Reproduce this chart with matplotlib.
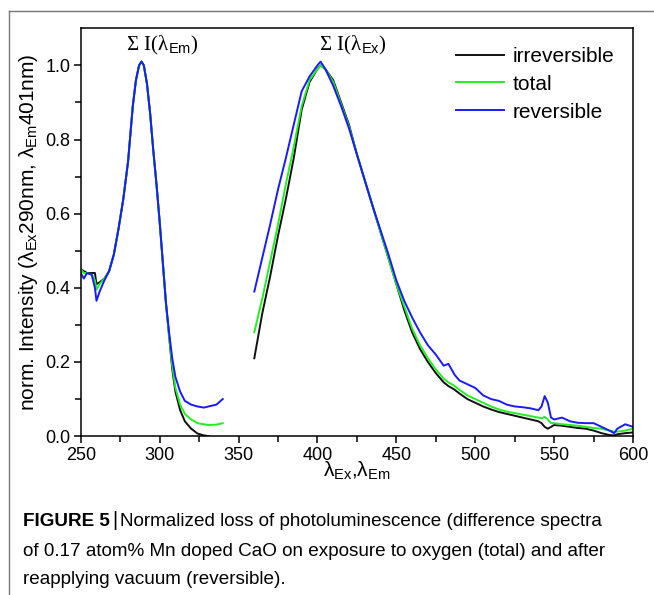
import numpy as np
import matplotlib
matplotlib.use("Agg")
import matplotlib.pyplot as plt
from matplotlib.lines import Line2D

plt.rcParams['font.family'] = ['Liberation Sans', 'DejaVu Sans']
plt.rcParams['mathtext.fontset'] = 'custom'
plt.rcParams['mathtext.rm'] = 'Liberation Serif'
plt.rcParams['mathtext.it'] = 'Liberation Sans'
plt.rcParams['mathtext.sf'] = 'Liberation Sans'

# excitation spectrum (em. 401 nm)
ex_wl = [250, 252, 254, 257, 259, 260, 262, 265, 268, 271, 274, 277, 280, 283, 285, 287,
         288.5, 290, 292, 294, 296, 298, 300, 302, 304, 306, 308, 310, 313, 316, 320, 324,
         328, 331, 336, 340]
ex_irr = [0.45, 0.445, 0.44, 0.44, 0.44, 0.41, 0.415, 0.425, 0.445, 0.49, 0.56, 0.64, 0.74,
          0.89, 0.96, 1.0, 1.01, 1.0, 0.95, 0.87, 0.77, 0.68, 0.58, 0.47, 0.36, 0.27, 0.18,
          0.12, 0.07, 0.04, 0.02, 0.007, 0.002, 0.0, np.nan, np.nan]
ex_tot = [0.45, 0.44, 0.44, 0.435, 0.42, 0.395, 0.41, 0.425, 0.445, 0.49, 0.56, 0.64, 0.74,
          0.89, 0.96, 1.0, 1.01, 1.0, 0.95, 0.87, 0.77, 0.68, 0.58, 0.47, 0.36, 0.27, 0.19,
          0.13, 0.085, 0.06, 0.045, 0.035, 0.032, 0.03, 0.031, 0.035]
ex_rev = [0.44, 0.425, 0.44, 0.435, 0.40, 0.365, 0.39, 0.42, 0.445, 0.49, 0.56, 0.64, 0.74,
          0.89, 0.96, 1.0, 1.01, 1.0, 0.95, 0.87, 0.77, 0.68, 0.58, 0.47, 0.36, 0.28, 0.21,
          0.16, 0.12, 0.095, 0.085, 0.08, 0.077, 0.08, 0.085, 0.10]

# emission spectrum (ex. 290 nm)
em_wl = [360, 365, 370, 375, 380, 385, 390, 395, 400, 402, 405, 410, 415, 420, 425, 430,
         435, 440, 445, 450, 455, 460, 465, 470, 475, 480, 483, 487, 490, 495, 500, 505,
         510, 515, 520, 525, 530, 535, 540, 542, 544, 546, 548, 550, 555, 560, 565, 570,
         575, 580, 585, 588, 590, 595, 600]
em_irr = [0.21, 0.33, 0.43, 0.54, 0.64, 0.75, 0.88, 0.955, 0.99, 1.0, 0.99, 0.96, 0.90,
          0.84, 0.76, 0.69, 0.62, 0.55, 0.48, 0.41, 0.34, 0.28, 0.235, 0.20, 0.17, 0.145,
          0.135, 0.125, 0.115, 0.10, 0.09, 0.08, 0.072, 0.065, 0.06, 0.055, 0.05, 0.045,
          0.04, 0.035, 0.025, 0.02, 0.025, 0.03, 0.028, 0.025, 0.022, 0.02, 0.015, 0.008,
          0.003, 0.002, 0.005, 0.008, 0.01]
em_tot = [0.28, 0.37, 0.47, 0.57, 0.68, 0.78, 0.89, 0.96, 0.99, 1.0, 0.99, 0.955, 0.895,
          0.835, 0.76, 0.69, 0.62, 0.55, 0.48, 0.41, 0.35, 0.29, 0.245, 0.21, 0.18, 0.155,
          0.145, 0.135, 0.125, 0.11, 0.10, 0.09, 0.08, 0.072, 0.066, 0.062, 0.058, 0.054,
          0.05, 0.048, 0.052, 0.045, 0.035, 0.035, 0.032, 0.03, 0.028, 0.025, 0.022, 0.02,
          0.015, 0.012, 0.012, 0.015, 0.02]
em_rev = [0.39, 0.48, 0.57, 0.665, 0.75, 0.84, 0.93, 0.97, 1.0, 1.01, 0.99, 0.945, 0.89,
          0.83, 0.76, 0.69, 0.62, 0.555, 0.49, 0.42, 0.365, 0.32, 0.28, 0.245, 0.22, 0.19,
          0.195, 0.165, 0.15, 0.14, 0.13, 0.11, 0.10, 0.095, 0.085, 0.08, 0.078, 0.075,
          0.07, 0.08, 0.108, 0.09, 0.05, 0.045, 0.05, 0.04, 0.036, 0.035, 0.035, 0.025,
          0.015, 0.008, 0.02, 0.032, 0.025]

labels = ['irreversible', 'total', 'reversible']
colors = ['#111111', '#22ee22', '#1a1aff']

fig = plt.figure(figsize=(6.54, 5.95), dpi=100)
ax = fig.add_axes([0.1234, 0.267, 0.8446, 0.6855])

for ys_ex, ys_em, c in zip([ex_irr, ex_tot, ex_rev], [em_irr, em_tot, em_rev], colors):
    ax.plot(ex_wl, ys_ex, color=c, lw=1.4)
    ax.plot(em_wl, ys_em, color=c, lw=1.4)

ax.set_xlim(250, 600)
ax.set_ylim(0, 1.1)
ax.set_xticks(np.arange(250, 601, 50))
ax.set_xticks(np.arange(275, 600, 50), minor=True)
ax.set_yticks(np.arange(0, 1.01, 0.2))
ax.set_yticks(np.arange(0.1, 1.1, 0.2), minor=True)
ax.yaxis.set_major_formatter(matplotlib.ticker.FormatStrFormatter('%.1f'))
ax.tick_params(which='both', direction='out', labelsize=13, width=1.1, pad=2.5)
ax.tick_params(which='major', length=5)
ax.tick_params(which='minor', length=4)
for s in ax.spines.values():
    s.set_linewidth(1.1)

ax.set_ylabel(r'norm. Intensity ($\lambda_{\mathsf{Ex}}$290nm, $\lambda_{\mathsf{Em}}$401nm)',
              fontsize=15, labelpad=4)
ax.set_xlabel(r'$\lambda_{\mathsf{Ex}}$,$\lambda_{\mathsf{Em}}$', fontsize=15, labelpad=-3)

ax.text(301.5, 1.054, r'$\mathrm{\Sigma\ I(\lambda}_{\mathsf{Em}}\mathrm{)}$', fontsize=15,
        ha='center', va='center')
ax.text(422.5, 1.054, r'$\mathrm{\Sigma\ I(\lambda}_{\mathsf{Ex}}\mathrm{)}$', fontsize=15,
        ha='center', va='center')

handles = [Line2D([], [], color=c, lw=1.4) for c in colors]
ax.legend(handles, labels, loc='upper right', frameon=False, fontsize=15,
          handlelength=2.3, handletextpad=0.4, labelspacing=0.42,
          bbox_to_anchor=(1.0, 1.0))

# figure frame lines
fig.add_artist(Line2D([9.3 / 654, 9.3 / 654], [0, 1 - 10.7 / 595], color='#777777', lw=1))
fig.add_artist(Line2D([9.3 / 654, 1], [1 - 10.7 / 595, 1 - 10.7 / 595], color='#777777', lw=1))

cap_x = 23 / 654
cap_fs = 13.6
fig.canvas.draw()
renderer = fig.canvas.get_renderer()
t1 = fig.text(cap_x, 1 - 521 / 595, 'FIGURE 5', fontsize=cap_fs, fontweight='bold', va='center')
x1 = fig.transFigure.inverted().transform(t1.get_window_extent(renderer))[1, 0]
t2 = fig.text(x1 + 0.004, 1 - 521 / 595, '|', fontsize=cap_fs + 1, va='center')
x2 = fig.transFigure.inverted().transform(t2.get_window_extent(renderer))[1, 0]
fig.text(x2 + 0.004, 1 - 521 / 595,
         'Normalized loss of photoluminescence (difference spectra', fontsize=cap_fs, va='center')
fig.text(cap_x, 1 - 551 / 595,
         'of 0.17 atom% Mn doped CaO on exposure to oxygen (total) and after',
         fontsize=cap_fs, va='center')
fig.text(cap_x, 1 - 579 / 595, 'reapplying vacuum (reversible).', fontsize=cap_fs, va='center')

plt.savefig('out.png', dpi=100)
